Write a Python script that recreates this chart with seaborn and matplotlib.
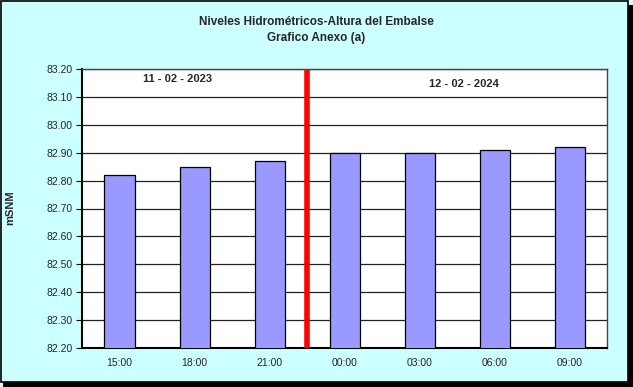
import matplotlib
matplotlib.use("Agg")
import matplotlib.pyplot as plt
import seaborn as sns
import pandas as pd
import numpy as np
from matplotlib.patches import Rectangle

hours = ["15:00", "18:00", "21:00", "00:00", "03:00", "06:00", "09:00"]
levels = [82.82, 82.85, 82.87, 82.90, 82.90, 82.91, 82.92]
y_ticks = [82.20, 82.30, 82.40, 82.50, 82.60, 82.70, 82.80, 82.90, 83.00, 83.10, 83.20]
date_left = "11 - 02 - 2023"
date_right = "12 - 02 - 2024"
title_lines = ["Niveles Hidrométricos-Altura del Embalse", "Grafico Anexo (a)"]

sns.set_theme(style="white")
plt.rcParams['font.family'] = ['Liberation Sans', 'DejaVu Sans']

df = pd.DataFrame({"hora": hours, "nivel": levels})

fig = plt.figure(figsize=(6.33, 3.87), dpi=100)
fig.patch.set_facecolor("#CCFFFF")
# outer border with shadow
fig.patches.append(Rectangle((3/633, 0), 630/633, 1 - 5/387, transform=fig.transFigure,
                             facecolor="black", edgecolor="none", zorder=-2))
fig.patches.append(Rectangle((0.5/633, 5/387), 627/633, 1 - 5.5/387, transform=fig.transFigure,
                             facecolor="#CCFFFF", edgecolor="black", linewidth=1.2, zorder=-1))

ax = fig.add_axes([82/633, 1 - 348/387, 525/633, 279/387])
ax.set_facecolor("white")

sns.barplot(data=df, x="hora", y="nivel", color="#9999FF", edgecolor="black",
            linewidth=0.9, width=0.40, saturation=1, ax=ax, zorder=3)

ax.set_ylim(82.20, 83.20)
ax.set_xlim(-0.5, len(hours) - 0.5)
ax.set_yticks(y_ticks)
ax.set_yticklabels([f"{v:.2f}" for v in y_ticks], fontsize=7.5)
ax.yaxis.grid(True, color="#222222", linewidth=0.9, zorder=0)
ax.set_axisbelow(True)

ax.set_xticks(range(len(hours)))
ax.set_xticklabels(hours, fontsize=7.5)
ax.set_xticks(np.arange(-0.5, len(hours), 1.0), minor=True)
ax.tick_params(axis="x", which="major", length=0, pad=7)
ax.tick_params(axis="x", which="minor", length=4, width=0.8, color="black", direction="out")
ax.tick_params(axis="y", which="major", length=4, width=0.8, color="black", direction="out", left=True, pad=3)

for s in ["left", "bottom"]:
    ax.spines[s].set_color("black")
    ax.spines[s].set_linewidth(1.5)
for s in ["top", "right"]:
    ax.spines[s].set_color("#444444")
    ax.spines[s].set_linewidth(1.0)

ax.set_xlabel("")
ax.set_ylabel("")
fig.text(10/633, 1 - 208/387, "mSNM", fontsize=8, fontweight="bold", rotation=90,
         ha="center", va="center")

ax.axvline(2.5, color="red", linewidth=4, zorder=5)

ax.text(0.77, 83.165, date_left, fontsize=8, fontweight="bold", ha="center", va="center", zorder=6)
ax.text(4.59, 83.145, date_right, fontsize=8, fontweight="bold", ha="center", va="center", zorder=6)

fig.text(0.5, 1 - 22/387, title_lines[0], fontsize=8.5, fontweight="bold", ha="center", va="center")
fig.text(0.5, 1 - 38/387, title_lines[1], fontsize=8.5, fontweight="bold", ha="center", va="center")

fig.savefig("out.png", dpi=100, facecolor=fig.get_facecolor())
